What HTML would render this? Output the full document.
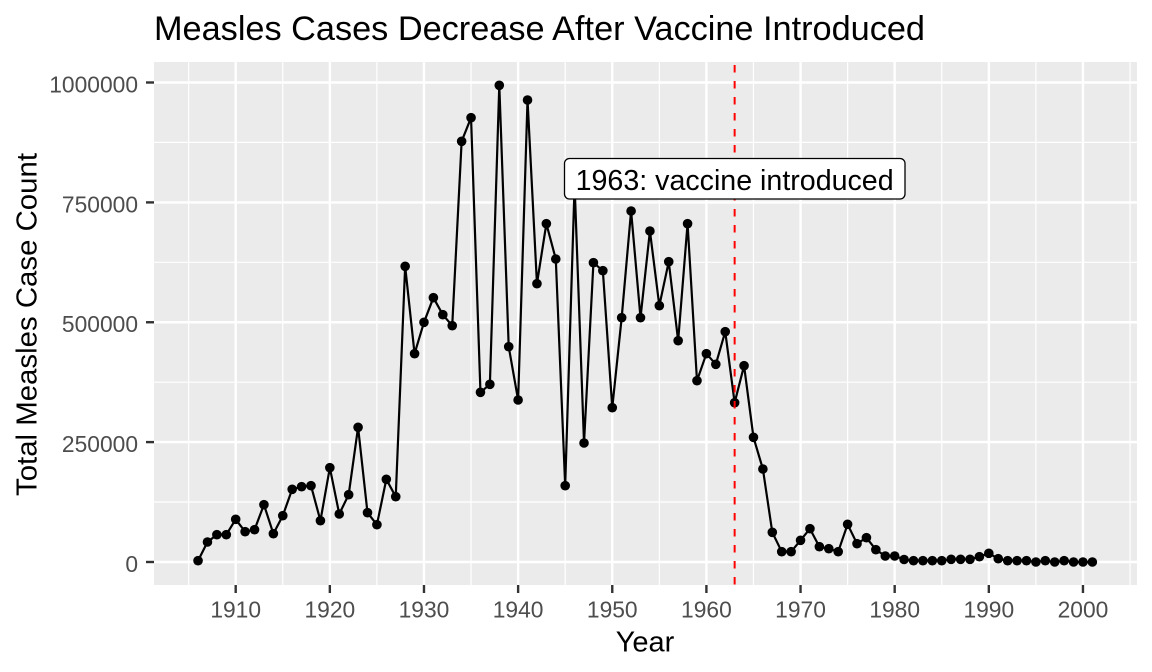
<!DOCTYPE html>
<html>
<head>
<meta charset="utf-8">
<style>
html,body{margin:0;padding:0;background:#fff;}
svg{display:block;}
text{font-family:"Liberation Sans",Arial,sans-serif;}
</style>
</head>
<body>
<svg width="1152" height="672" viewBox="0 0 1152 672" xmlns="http://www.w3.org/2000/svg">
<rect x="0" y="0" width="1152" height="672" fill="#fff"/>
<rect x="154" y="62" width="983" height="523" fill="#EBEBEB"/>
<g stroke="#fff" stroke-width="1.2">
<line x1="154" x2="1137" y1="502" y2="502"/>
<line x1="154" x2="1137" y1="382.2" y2="382.2"/>
<line x1="154" x2="1137" y1="262.3" y2="262.3"/>
<line x1="154" x2="1137" y1="142.4" y2="142.4"/>
<line y1="62" y2="585" x1="188.63" x2="188.63"/>
<line y1="62" y2="585" x1="282.77" x2="282.77"/>
<line y1="62" y2="585" x1="376.91" x2="376.91"/>
<line y1="62" y2="585" x1="471.05" x2="471.05"/>
<line y1="62" y2="585" x1="565.19" x2="565.19"/>
<line y1="62" y2="585" x1="659.33" x2="659.33"/>
<line y1="62" y2="585" x1="753.47" x2="753.47"/>
<line y1="62" y2="585" x1="847.61" x2="847.61"/>
<line y1="62" y2="585" x1="941.75" x2="941.75"/>
<line y1="62" y2="585" x1="1035.89" x2="1035.89"/>
<line y1="62" y2="585" x1="1130.03" x2="1130.03"/>
</g>
<g stroke="#fff" stroke-width="2.4">
<line x1="154" x2="1137" y1="562" y2="562"/>
<line x1="154" x2="1137" y1="442.1" y2="442.1"/>
<line x1="154" x2="1137" y1="322.25" y2="322.25"/>
<line x1="154" x2="1137" y1="202.4" y2="202.4"/>
<line x1="154" x2="1137" y1="82.5" y2="82.5"/>
<line y1="62" y2="585" x1="235.7" x2="235.7"/>
<line y1="62" y2="585" x1="329.84" x2="329.84"/>
<line y1="62" y2="585" x1="423.98" x2="423.98"/>
<line y1="62" y2="585" x1="518.12" x2="518.12"/>
<line y1="62" y2="585" x1="612.26" x2="612.26"/>
<line y1="62" y2="585" x1="706.4" x2="706.4"/>
<line y1="62" y2="585" x1="800.54" x2="800.54"/>
<line y1="62" y2="585" x1="894.68" x2="894.68"/>
<line y1="62" y2="585" x1="988.82" x2="988.82"/>
<line y1="62" y2="585" x1="1082.96" x2="1082.96"/>
</g>
<polyline fill="none" stroke="#000" stroke-width="2.2" stroke-linejoin="round" points="
198.04,560.7 207.46,542 216.87,534.7 226.29,534.7 235.7,519.3 245.11,531.7 254.53,529.7 263.94,504.7 273.36,533.7 282.77,515.7
292.18,489.3 301.6,486.7 311.01,485.7 320.43,520.7 329.84,467.7 339.25,514 348.67,494.7 358.08,427.3 367.5,512.7 376.91,524.7
386.32,479.3 395.74,496.7 405.15,266.3 414.57,353.7 423.98,322.3 433.39,297.7 442.81,314.7 452.22,325.7 461.64,141.3 471.05,117.7
480.46,392.3 489.88,384.3 499.29,85.3 508.71,346.7 518.12,400 527.53,100 536.95,283.7 546.36,223.7 555.78,259 565.19,485.7
574.6,185 584.02,443 593.43,262.7 602.85,270.7 612.26,407.7 621.67,317.7 631.09,211 640.5,317.7 649.92,231 659.33,305.7
668.74,261.7 678.16,340.7 687.57,223.7 696.99,380.7 706.4,353.7 715.81,364.3 725.23,331.7 734.64,402.7 744.06,365.7 753.47,437.3
762.88,469 772.3,532.3 781.71,551.7 791.13,551.7 800.54,540.3 809.95,528.7 819.37,546.7 828.78,548.7 838.2,551.7 847.61,524.3
857.02,543.7 866.44,537.7 875.85,549.7 885.27,556 894.68,556 904.09,559.5 913.51,560.7 922.92,560.7 932.34,560.7 941.75,560.7
951.16,559.3 960.58,559.3 969.99,559.3 979.41,556.7 988.82,553.3 998.23,558.7 1007.65,560.7 1017.06,560.7 1026.48,560.7 1035.89,562
1045.3,560.7 1054.72,562 1064.13,560.7 1073.55,562 1082.96,562 1092.37,562"/>
<g fill="#000">
<circle cx="198.04" cy="560.7" r="4.8"/><circle cx="207.46" cy="542" r="4.8"/><circle cx="216.87" cy="534.7" r="4.8"/><circle cx="226.29" cy="534.7" r="4.8"/><circle cx="235.7" cy="519.3" r="4.8"/>
<circle cx="245.11" cy="531.7" r="4.8"/><circle cx="254.53" cy="529.7" r="4.8"/><circle cx="263.94" cy="504.7" r="4.8"/><circle cx="273.36" cy="533.7" r="4.8"/><circle cx="282.77" cy="515.7" r="4.8"/>
<circle cx="292.18" cy="489.3" r="4.8"/><circle cx="301.6" cy="486.7" r="4.8"/><circle cx="311.01" cy="485.7" r="4.8"/><circle cx="320.43" cy="520.7" r="4.8"/><circle cx="329.84" cy="467.7" r="4.8"/>
<circle cx="339.25" cy="514" r="4.8"/><circle cx="348.67" cy="494.7" r="4.8"/><circle cx="358.08" cy="427.3" r="4.8"/><circle cx="367.5" cy="512.7" r="4.8"/><circle cx="376.91" cy="524.7" r="4.8"/>
<circle cx="386.32" cy="479.3" r="4.8"/><circle cx="395.74" cy="496.7" r="4.8"/><circle cx="405.15" cy="266.3" r="4.8"/><circle cx="414.57" cy="353.7" r="4.8"/><circle cx="423.98" cy="322.3" r="4.8"/>
<circle cx="433.39" cy="297.7" r="4.8"/><circle cx="442.81" cy="314.7" r="4.8"/><circle cx="452.22" cy="325.7" r="4.8"/><circle cx="461.64" cy="141.3" r="4.8"/><circle cx="471.05" cy="117.7" r="4.8"/>
<circle cx="480.46" cy="392.3" r="4.8"/><circle cx="489.88" cy="384.3" r="4.8"/><circle cx="499.29" cy="85.3" r="4.8"/><circle cx="508.71" cy="346.7" r="4.8"/><circle cx="518.12" cy="400" r="4.8"/>
<circle cx="527.53" cy="100" r="4.8"/><circle cx="536.95" cy="283.7" r="4.8"/><circle cx="546.36" cy="223.7" r="4.8"/><circle cx="555.78" cy="259" r="4.8"/><circle cx="565.19" cy="485.7" r="4.8"/>
<circle cx="574.6" cy="185" r="4.8"/><circle cx="584.02" cy="443" r="4.8"/><circle cx="593.43" cy="262.7" r="4.8"/><circle cx="602.85" cy="270.7" r="4.8"/><circle cx="612.26" cy="407.7" r="4.8"/>
<circle cx="621.67" cy="317.7" r="4.8"/><circle cx="631.09" cy="211" r="4.8"/><circle cx="640.5" cy="317.7" r="4.8"/><circle cx="649.92" cy="231" r="4.8"/><circle cx="659.33" cy="305.7" r="4.8"/>
<circle cx="668.74" cy="261.7" r="4.8"/><circle cx="678.16" cy="340.7" r="4.8"/><circle cx="687.57" cy="223.7" r="4.8"/><circle cx="696.99" cy="380.7" r="4.8"/><circle cx="706.4" cy="353.7" r="4.8"/>
<circle cx="715.81" cy="364.3" r="4.8"/><circle cx="725.23" cy="331.7" r="4.8"/><circle cx="734.64" cy="402.7" r="4.8"/><circle cx="744.06" cy="365.7" r="4.8"/><circle cx="753.47" cy="437.3" r="4.8"/>
<circle cx="762.88" cy="469" r="4.8"/><circle cx="772.3" cy="532.3" r="4.8"/><circle cx="781.71" cy="551.7" r="4.8"/><circle cx="791.13" cy="551.7" r="4.8"/><circle cx="800.54" cy="540.3" r="4.8"/>
<circle cx="809.95" cy="528.7" r="4.8"/><circle cx="819.37" cy="546.7" r="4.8"/><circle cx="828.78" cy="548.7" r="4.8"/><circle cx="838.2" cy="551.7" r="4.8"/><circle cx="847.61" cy="524.3" r="4.8"/>
<circle cx="857.02" cy="543.7" r="4.8"/><circle cx="866.44" cy="537.7" r="4.8"/><circle cx="875.85" cy="549.7" r="4.8"/><circle cx="885.27" cy="556" r="4.8"/><circle cx="894.68" cy="556" r="4.8"/>
<circle cx="904.09" cy="559.5" r="4.8"/><circle cx="913.51" cy="560.7" r="4.8"/><circle cx="922.92" cy="560.7" r="4.8"/><circle cx="932.34" cy="560.7" r="4.8"/><circle cx="941.75" cy="560.7" r="4.8"/>
<circle cx="951.16" cy="559.3" r="4.8"/><circle cx="960.58" cy="559.3" r="4.8"/><circle cx="969.99" cy="559.3" r="4.8"/><circle cx="979.41" cy="556.7" r="4.8"/><circle cx="988.82" cy="553.3" r="4.8"/>
<circle cx="998.23" cy="558.7" r="4.8"/><circle cx="1007.65" cy="560.7" r="4.8"/><circle cx="1017.06" cy="560.7" r="4.8"/><circle cx="1026.48" cy="560.7" r="4.8"/><circle cx="1035.89" cy="562" r="4.8"/>
<circle cx="1045.3" cy="560.7" r="4.8"/><circle cx="1054.72" cy="562" r="4.8"/><circle cx="1064.13" cy="560.7" r="4.8"/><circle cx="1073.55" cy="562" r="4.8"/><circle cx="1082.96" cy="562" r="4.8"/>
<circle cx="1092.37" cy="562" r="4.8"/>
</g>
<line x1="734.64" x2="734.64" y1="62" y2="585" stroke="#FF0000" stroke-width="2" stroke-dasharray="7.5 8.5" stroke-dashoffset="13"/>
<rect x="564.5" y="158.5" width="340.5" height="40.5" rx="5" ry="5" fill="#fff" stroke="#000" stroke-width="1.3"/>
<text x="734.64" y="190" font-size="28.5" text-anchor="middle" fill="#000" textLength="318" lengthAdjust="spacingAndGlyphs">1963: vaccine introduced</text>
<g stroke="#333" stroke-width="2.4">
<line x1="146" x2="154" y1="562" y2="562"/>
<line x1="146" x2="154" y1="442.1" y2="442.1"/>
<line x1="146" x2="154" y1="322.25" y2="322.25"/>
<line x1="146" x2="154" y1="202.4" y2="202.4"/>
<line x1="146" x2="154" y1="82.5" y2="82.5"/>
<line y1="585" y2="593" x1="235.7" x2="235.7"/>
<line y1="585" y2="593" x1="329.84" x2="329.84"/>
<line y1="585" y2="593" x1="423.98" x2="423.98"/>
<line y1="585" y2="593" x1="518.12" x2="518.12"/>
<line y1="585" y2="593" x1="612.26" x2="612.26"/>
<line y1="585" y2="593" x1="706.4" x2="706.4"/>
<line y1="585" y2="593" x1="800.54" x2="800.54"/>
<line y1="585" y2="593" x1="894.68" x2="894.68"/>
<line y1="585" y2="593" x1="988.82" x2="988.82"/>
<line y1="585" y2="593" x1="1082.96" x2="1082.96"/>
</g>
<g fill="#4D4D4D" font-size="22.8" text-anchor="end">
<text x="138" y="572">0</text>
<text x="138" y="452">250000</text>
<text x="138" y="332.2">500000</text>
<text x="138" y="212.4">750000</text>
<text x="138" y="92.5">1000000</text>
</g>
<g fill="#4D4D4D" font-size="22.8" text-anchor="middle">
<text x="235.7" y="617.7">1910</text>
<text x="329.84" y="617.7">1920</text>
<text x="423.98" y="617.7">1930</text>
<text x="518.12" y="617.7">1940</text>
<text x="612.26" y="617.7">1950</text>
<text x="706.4" y="617.7">1960</text>
<text x="800.54" y="617.7">1970</text>
<text x="894.68" y="617.7">1980</text>
<text x="988.82" y="617.7">1990</text>
<text x="1082.96" y="617.7">2000</text>
</g>
<text x="645" y="651.7" font-size="29" text-anchor="middle" fill="#000">Year</text>
<text transform="translate(36.5,324.5) rotate(-90)" font-size="29" text-anchor="middle" fill="#000" textLength="343" lengthAdjust="spacingAndGlyphs">Total Measles Case Count</text>
<text x="154" y="40" font-size="34" fill="#000" textLength="771" lengthAdjust="spacingAndGlyphs">Measles Cases Decrease After Vaccine Introduced</text>
</svg>
</body>
</html>
